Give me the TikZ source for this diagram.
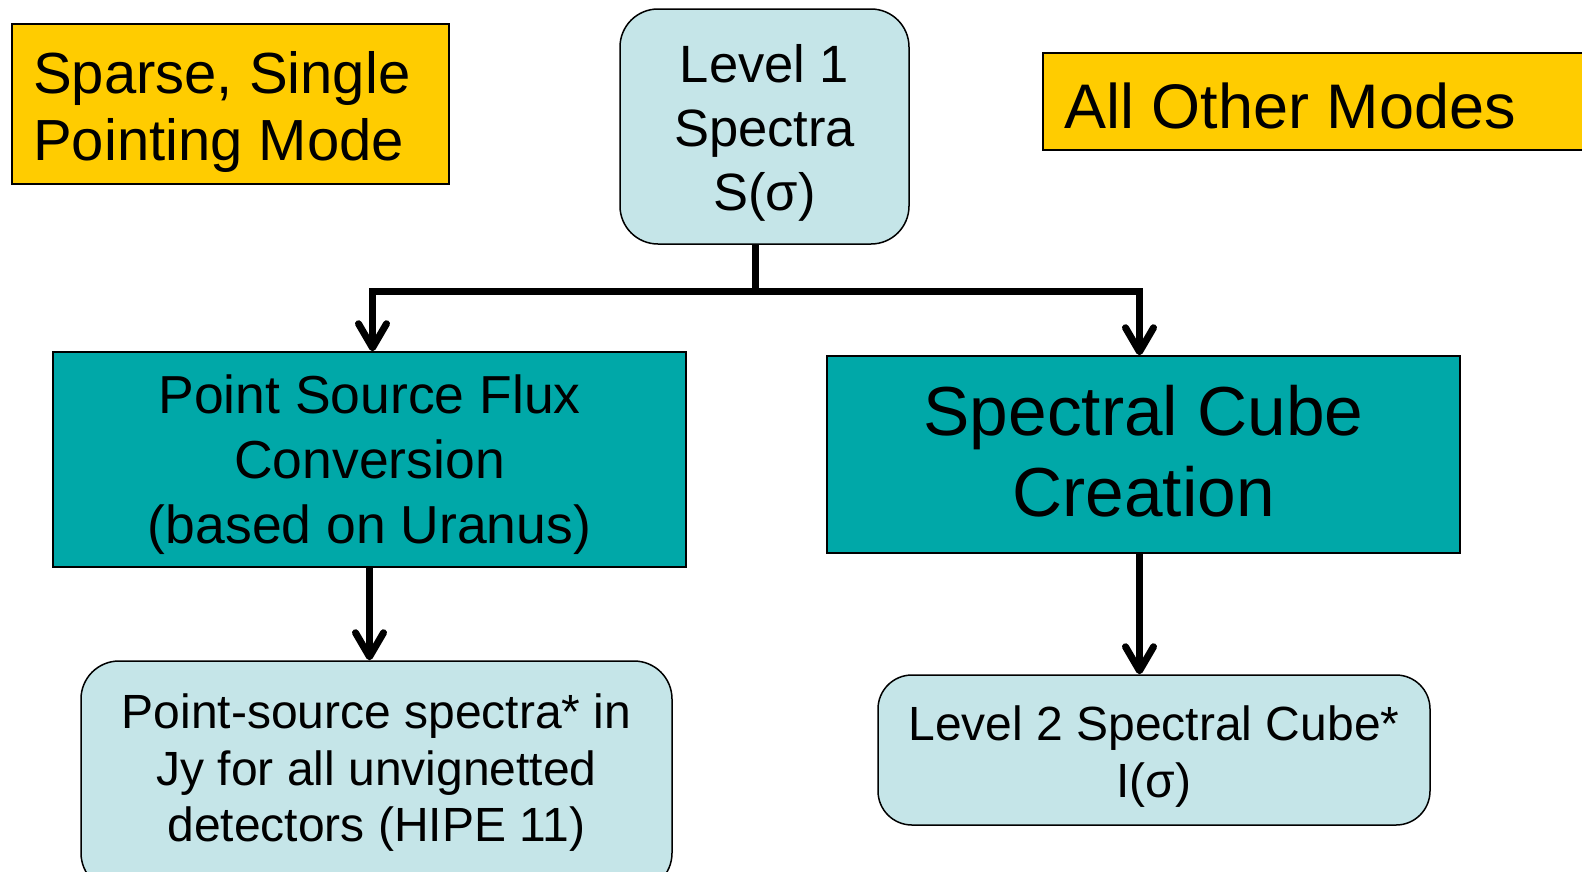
\documentclass[tikz,border=0pt]{standalone}
\usepackage{fontspec}
\setmainfont{Liberation Sans}
\usetikzlibrary{arrows.meta,calc}
\definecolor{boxyellow}{RGB}{255,204,0}
\definecolor{boxlight}{RGB}{197,229,232}
\definecolor{boxteal}{RGB}{0,168,168}
\tikzset{
  modebox/.style={draw=black, line width=1.5pt, fill=boxyellow, inner sep=0pt},
  softbox/.style={draw=black, line width=1.5pt, fill=boxlight, rounded corners=38pt, inner sep=0pt},
  tealbox/.style={draw=black, line width=1.5pt, fill=boxteal, inner sep=0pt},
  label/.style={inner sep=0pt, align=center},
  leftlabel/.style={inner sep=0pt, align=left},
  flow/.style={draw=black, line width=7pt, -{Straight Barb[length=24pt,width=28pt,round]}},
  plain/.style={draw=black, line width=7pt}
}
\begin{document}
\begin{tikzpicture}[x=1pt,y=-1pt]
\clip (0,0) rectangle (1582,871);
\fill[white] (0,0) rectangle (1582,871);

% mode labels
\node[modebox, minimum width=437pt, minimum height=160pt] (sparse) at (230.5,104) {};
\node[leftlabel, anchor=west, font=\fontsize{58}{67}\selectfont] (sparset) at (33,111.5) {Sparse, Single\\Pointing Mode};
\node[modebox, minimum width=560pt, minimum height=97pt, anchor=west] (other) at (1042,101.5) {};
\node[inner sep=0pt, anchor=base west, font=\fontsize{63}{70}\selectfont] (othert) at (1064,128) {All Other Modes};

% level 1
\node[softbox, minimum width=289pt, minimum height=235pt] (l1) at (764.5,126.5) {};
\node[label, font=\fontsize{52.5}{64}\selectfont] (l1t) at ($(l1.center)+(0,6)$) {Level 1\\Spectra\\S(σ)};

% processing steps
\node[tealbox, minimum width=633pt, minimum height=215pt] (ps) at (369.5,459.5) {};
\node[label, font=\fontsize{53.5}{65}\selectfont] (pst) at ($(ps.center)+(0,5)$) {Point Source Flux\\Conversion\\(based on Uranus)};
\node[tealbox, minimum width=633pt, minimum height=197pt] (sc) at (1143.5,454.5) {};
\node[label, font=\fontsize{69.4}{81}\selectfont] (sct) at ($(sc.center)+(0,-3)$) {Spectral Cube\\Creation};

% products
\node[softbox, minimum width=591pt, minimum height=230pt] (bl) at (376.5,776) {};
\node[label, font=\fontsize{48}{56.5}\selectfont] (blt) at (376.5,773) {Point-source spectra* in\\Jy for all unvignetted\\detectors (HIPE 11)};
\node[softbox, rounded corners=34pt, minimum width=552pt, minimum height=150pt] (l2) at (1154,750) {};
\node[label, font=\fontsize{48}{57}\selectfont] (l2t) at ($(l2.center)+(0,7)$) {Level 2 Spectral Cube*\\I(σ)};

% connectors
\coordinate (split) at ($(l1.south)+(-9,47)$);
\draw[plain] (split |- l1.south) -- (split);
\draw[flow] (split) -| ($(ps.north)+(3,0)$);
\draw[flow] (split) -| ($(sc.north)+(-4,0)$);
\draw[flow] (ps.south) -- (ps.south |- bl.north);
\draw[flow] ($(sc.south)+(-4,0)$) -- ($(sc.south |- l2.north)+(-4,0)$);
\end{tikzpicture}
\end{document}
